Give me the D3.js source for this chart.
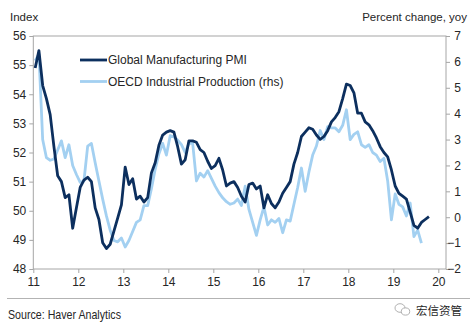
<!DOCTYPE html>
<html lang="en">
    <head>
        <meta charset="utf-8">
        <title>Global PMI vs OECD IP</title>
        <script type="text/javascript" src="https://d3js.org/d3.v7.min.js"></script>
        <style type="text/css">
            body {
              margin: 0;
              background: #fff;
            }
            svg text {
              font-family: "Liberation Sans", "Arial", sans-serif;
              fill: #262626;
            }
        </style>
    </head>
    <body>
        <script type="text/javascript">

        const width = 476;
        const height = 329;
        const plotLeft = 33.3, plotRight = 446, plotTop = 36, plotBottom = 269;

        // Monthly data, starting Jan 2011
        const startYear = 2011;
        const yearTicks = [2011, 2012, 2013, 2014, 2015, 2016, 2017, 2018, 2019, 2020];
        const pmiTicks = [48, 49, 50, 51, 52, 53, 54, 55, 56];
        const ipTicks = [-2, -1, 0, 1, 2, 3, 4, 5, 6, 7];

        // Global Manufacturing PMI (index), Jan 2011 - Oct 2019
        const pmi = [
            54.9, 55.5, 54.3, 53.85, 53.3, 52.2, 51.2, 51.0, 50.45, 50.55, 49.4, 50.1,
            50.8, 51.05, 51.15, 51.0, 50.1, 49.7, 48.9, 48.7, 48.85, 49.3, 49.75, 50.2,
            51.5, 50.9, 51.1, 50.4, 50.5, 50.3, 50.45, 51.3, 51.65, 52.25, 52.6, 52.7,
            52.75, 52.7, 52.2, 51.6, 51.75, 52.4, 52.4, 52.35, 52.1, 52.0, 51.7, 51.45,
            51.55, 51.8, 51.4, 50.85, 50.95, 51.0, 50.8, 50.5, 50.3, 50.9, 50.95, 50.75,
            50.85, 50.1, 50.55, 50.25, 50.1, 50.3, 50.6, 50.8, 51.0, 51.6, 52.0, 52.55,
            52.7, 52.85, 52.8, 52.6, 52.45, 52.55, 52.75, 53.05, 53.2, 53.4, 53.85, 54.35,
            54.3, 54.05, 53.35, 53.35, 53.05, 52.95, 52.75, 52.5, 52.2, 52.0, 51.85, 51.4,
            50.85, 50.6, 50.5, 50.4, 49.95, 49.5, 49.4, 49.6, 49.7, 49.8
        ];

        // OECD Industrial Production, % yoy, Jan 2011 - Aug 2019
        const oecdIp = [
            6.05, 6.3, 3.0, 2.3, 2.2, 2.25, 2.6, 2.95, 2.3, 2.8, 2.0, 1.65,
            1.35, 1.4, 2.75, 2.85, 2.1, 1.4, 0.7, 0.05, -0.5, -0.9, -0.95, -0.8,
            -1.15, -0.9, -0.55, -0.2, -0.1, 0.45, 0.45, 1.1, 1.85, 2.45, 2.85, 2.4,
            3.15, 3.1, 2.98, 2.8, 2.5, 2.85, 2.85, 1.4, 1.7, 1.55, 1.8, 1.5,
            1.2, 0.95, 0.75, 0.6, 0.5, 0.55, 0.7, 0.45, 1.2, 0.3, -0.2, -0.7,
            -0.1, 0.4, -0.3, -0.1, -0.2, -0.05, -0.6, -0.1, -0.15, 0.5, 1.15, 1.9,
            1.0, 1.75, 2.4, 2.75, 3.35, 3.0, 3.5, 3.45, 3.45, 3.3, 3.55, 4.15,
            3.0, 3.2, 3.3, 2.8, 2.7, 2.8, 2.5, 2.4, 2.15, 2.28, 1.4, -0.1,
            0.9, 0.5, 0.4, 0.05, 0.55, -0.75, -0.5, -1.0
        ];

        const seriesNames = ["Global Manufacturing PMI", "OECD Industrial Production (rhs)"];
        const colors = ["#0c2f5e", "#a3d0f1"];
        const axisColor = "#a6a6a6";

        //Scales
        const xScale = d3.scaleLinear()
                        .domain([2011, 2020])
                        .range([plotLeft, 438.3]);

        const yLeft = d3.scaleLinear()
                        .domain([48, 56])
                        .range([plotBottom, plotTop]);

        const yRight = d3.scaleLinear()
                        .domain([-2, 7])
                        .range([plotBottom, plotTop]);

        // mid-month position
        const monthX = i => xScale(startYear + (i + 0.5) / 12);

        //SVG
        const svg = d3.select("body")
                    .append("svg")
                    .attr("width", width)
                    .attr("height", height);

        // plot frame
        svg.append("rect")
            .attr("x", plotLeft)
            .attr("y", plotTop)
            .attr("width", plotRight - plotLeft)
            .attr("height", plotBottom - plotTop)
            .attr("fill", "none")
            .attr("stroke", axisColor)
            .attr("stroke-width", 1);

        //Axes
        const styleAxis = g => {
            g.select(".domain").remove();
            g.selectAll("line").attr("stroke", axisColor);
            g.selectAll("text").style("font-size", "12px").attr("fill", "#262626");
        };

        svg.append("g")
            .attr("transform", "translate(0," + plotBottom + ")")
            .call(d3.axisBottom(xScale)
                    .tickValues(yearTicks)
                    .tickFormat(d => String(d).slice(2))
                    .tickSize(4)
                    .tickPadding(4))
            .call(styleAxis);

        svg.append("g")
            .attr("transform", "translate(" + plotLeft + ",0)")
            .call(d3.axisLeft(yLeft)
                    .tickValues(pmiTicks)
                    .tickSize(4)
                    .tickPadding(3))
            .call(styleAxis);

        svg.append("g")
            .attr("transform", "translate(" + plotRight + ",0)")
            .call(d3.axisRight(yRight)
                    .tickValues(ipTicks)
                    .tickSize(4))
            .call(styleAxis)
            .call(g => g.selectAll("text").attr("text-anchor", "end").attr("x", 15));

        //Lines
        const pmiLine = d3.line()
                        .x((d, i) => monthX(i))
                        .y(d => yLeft(d));

        const ipLine = d3.line()
                        .x((d, i) => monthX(i))
                        .y(d => yRight(d));

        svg.append("path")
            .datum(oecdIp)
            .attr("d", ipLine)
            .attr("fill", "none")
            .attr("stroke", colors[1])
            .attr("stroke-width", 2.8)
            .attr("stroke-linejoin", "round");

        svg.append("path")
            .datum(pmi)
            .attr("d", pmiLine)
            .attr("fill", "none")
            .attr("stroke", colors[0])
            .attr("stroke-width", 2.8)
            .attr("stroke-linejoin", "round");

        //Legend
        const legend = svg.append("g");
        seriesNames.forEach((name, i) => {
            const ly = 60 + i * 21.5;
            legend.append("line")
                .attr("x1", 80).attr("x2", 107)
                .attr("y1", ly).attr("y2", ly)
                .attr("stroke", colors[i])
                .attr("stroke-width", 2.8);
            legend.append("text")
                .attr("x", 108)
                .attr("y", ly + 4)
                .style("font-size", "12px")
                .text(name);
        });

        //Axis titles
        svg.append("text")
            .attr("x", 10)
            .attr("y", 20.5)
            .style("font-size", "11.5px")
            .text("Index");

        svg.append("text")
            .attr("x", 467)
            .attr("y", 20.5)
            .attr("text-anchor", "end")
            .style("font-size", "11.5px")
            .text("Percent change, yoy");

        //Footer
        svg.append("line")
            .attr("x1", 7).attr("x2", 470)
            .attr("y1", 298.5).attr("y2", 298.5)
            .attr("stroke", "#b3b3b3")
            .attr("stroke-width", 1.2);

        // condensed source line
        svg.append("text")
            .attr("x", 8)
            .attr("y", 318.5)
            .attr("textLength", 113)
            .attr("lengthAdjust", "spacingAndGlyphs")
            .style("font-size", "13.5px")
            .attr("fill", "#333")
            .text("Source: Haver Analytics");

        // wechat mark
        const mark = svg.append("g").attr("stroke", "#a8a8a8").attr("fill", "none").attr("stroke-width", 0.9);
        mark.append("ellipse").attr("cx", 400).attr("cy", 308).attr("rx", 5).attr("ry", 4.3);
        mark.append("ellipse").attr("cx", 405.5).attr("cy", 311.5).attr("rx", 4.2).attr("ry", 3.6).attr("fill", "#fff");

        svg.append("text")
            .attr("x", 416)
            .attr("y", 314.5)
            .style("font-family", "'Noto Sans CJK SC', sans-serif")
            .style("font-size", "11.5px")
            .attr("fill", "#9a9a9a")
            .text("宏信资管");

        </script>
    </body>
</html>
